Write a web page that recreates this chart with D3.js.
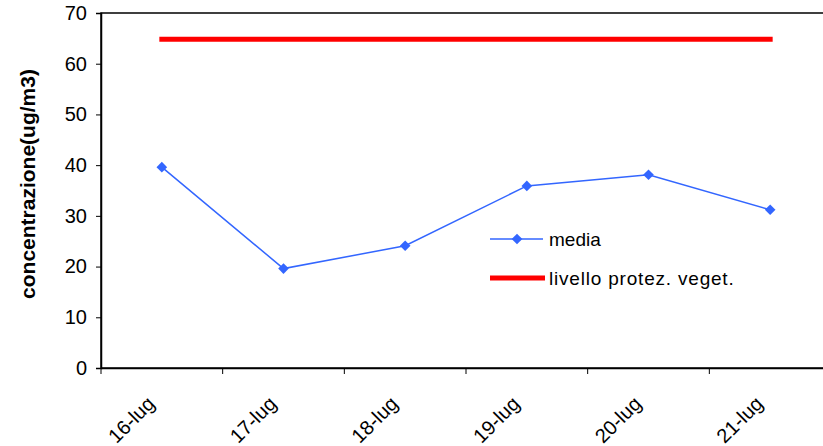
<!DOCTYPE html>
<html>
<head>
<meta charset="utf-8">
<script src="https://d3js.org/d3.v7.min.js"></script>
<style>
  body { margin: 0; background: white; }
  text { font-family: "Liberation Sans", Arial, sans-serif; }
</style>
</head>
<body>
<svg width="823" height="446"></svg>
<script>
var days = ['16-lug', '17-lug', '18-lug', '19-lug', '20-lug', '21-lug'];
var media = [39.6, 19.6, 24.1, 35.9, 38.1, 31.2];
var livello = [64.8, 64.8, 64.8, 64.8, 64.8, 64.8];
var yTicks = [0, 10, 20, 30, 40, 50, 60, 70];

var svg = d3.select('svg');
var mLeft = 101, mTop = 13, mBottom = 368, mRight = 831;

var x = d3.scaleBand().domain(days).range([mLeft, mRight]);
var y = d3.scaleLinear().domain([0, 70]).range([mBottom, mTop]);
var cx = function(d) { return x(d) + x.bandwidth() / 2; };

// frame
svg.append('rect')
  .attr('x', mLeft).attr('y', mTop)
  .attr('width', mRight - mLeft).attr('height', mBottom - mTop)
  .attr('fill', 'none').attr('stroke', 'black').attr('stroke-width', 1.5);

// y axis
var yAxis = svg.append('g')
  .attr('transform', 'translate(' + mLeft + ',0)')
  .call(d3.axisLeft(y).tickValues(yTicks).tickSize(5).tickPadding(9));
yAxis.select('.domain').attr('stroke-width', 1.5);
yAxis.selectAll('text').style('font-size', '20px').attr('fill', 'black')
  .attr('font-family', '"Liberation Sans", Arial, sans-serif');

// x axis
var xAxis = svg.append('g')
  .attr('transform', 'translate(0,' + mBottom + ')')
  .call(d3.axisBottom(x).tickSize(0).tickFormat(''));
xAxis.select('.domain').attr('stroke-width', 1.5);
var xTickPos = days.map(function(d) { return x(d); });
xAxis.selectAll('line.sep').data(xTickPos).enter().append('line')
  .attr('class', 'sep')
  .attr('x1', function(d) { return d; }).attr('x2', function(d) { return d; })
  .attr('y1', 0).attr('y2', 6)
  .attr('stroke', 'black');

svg.append('g').selectAll('text').data(days).enter().append('text')
  .attr('transform', function(d) { return 'translate(' + (cx(d) - 6) + ',' + (mBottom + 37) + ') rotate(-45)'; })
  .attr('text-anchor', 'end')
  .style('font-size', '20px')
  .text(function(d) { return d; });

// y title
svg.append('text')
  .attr('transform', 'translate(35,184) rotate(-90)')
  .attr('text-anchor', 'middle')
  .style('font-size', '21px')
  .style('font-weight', 'bold')
  .text('concentrazione(ug/m3)');

// red limit line
svg.append('path')
  .datum(days.map(function(d, i) { return [cx(d), y(livello[i])]; }))
  .attr('d', d3.line())
  .attr('fill', 'none').attr('stroke', '#ff0000').attr('stroke-width', 5)
  .attr('stroke-linecap', 'square');

// blue media line
svg.append('path')
  .datum(days.map(function(d, i) { return [cx(d), y(media[i])]; }))
  .attr('d', d3.line())
  .attr('fill', 'none').attr('stroke', '#3366ff').attr('stroke-width', 1.5);

var diamond = d3.symbol().type(d3.symbolDiamond2).size(72);
svg.append('g').selectAll('path').data(days).enter().append('path')
  .attr('transform', function(d, i) { return 'translate(' + cx(d) + ',' + y(media[i]) + ')'; })
  .attr('d', diamond)
  .attr('fill', '#3366ff');

// legend
var lg = svg.append('g').attr('transform', 'translate(490,239)');
lg.append('line').attr('x1', 0).attr('x2', 53).attr('y1', 0).attr('y2', 0)
  .attr('stroke', '#3366ff').attr('stroke-width', 1.5);
lg.append('path').attr('transform', 'translate(27,0)').attr('d', diamond).attr('fill', '#3366ff');
lg.append('text').attr('x', 59).attr('y', 7).style('font-size', '19px').text('media');
lg.append('line').attr('x1', 0).attr('x2', 55).attr('y1', 39).attr('y2', 39)
  .attr('stroke', '#ff0000').attr('stroke-width', 5);
lg.append('text').attr('x', 59).attr('y', 46).style('font-size', '19px')
  .style('letter-spacing', '0.8px').text('livello protez. veget.');
</script>
</body>
</html>
